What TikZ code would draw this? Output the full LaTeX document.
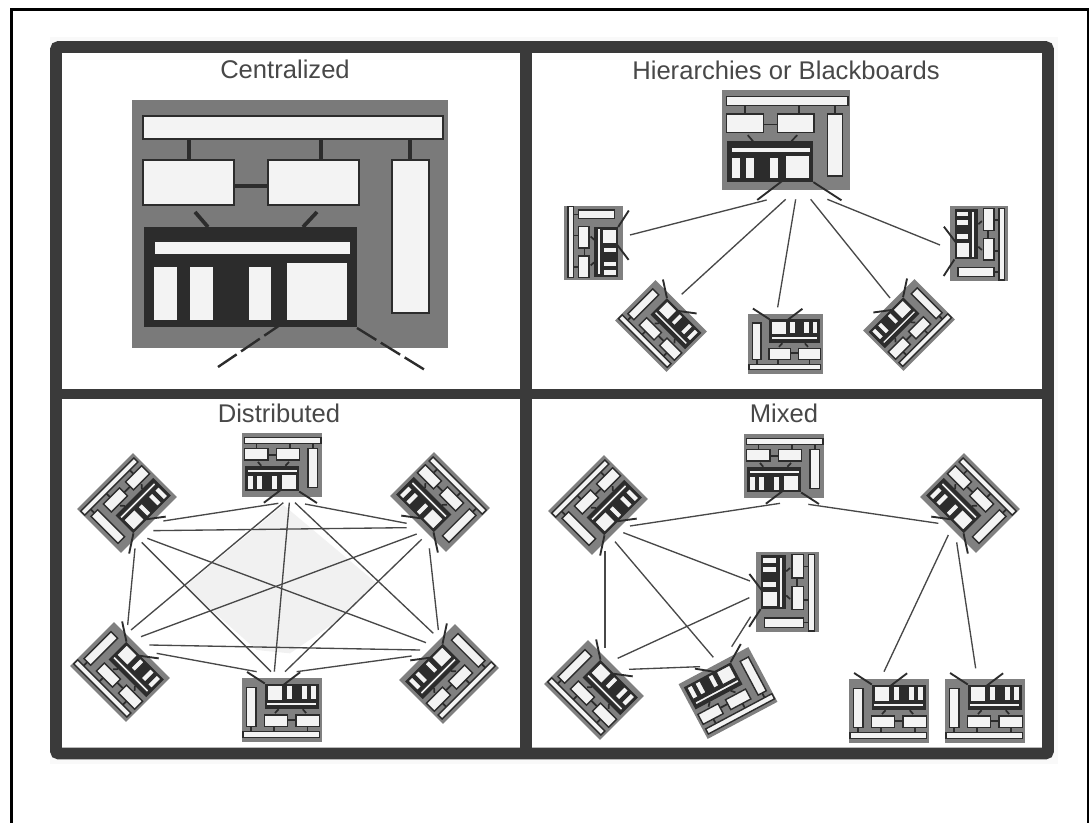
\documentclass[tikz,border=0pt]{standalone}
\usepackage{fontspec}
\setmainfont{Liberation Sans}
\definecolor{framecol}{HTML}{3A3A3A}
\definecolor{modgray}{HTML}{808080}
\definecolor{moddark}{HTML}{2C2C2C}
\definecolor{modwhite}{HTML}{F3F3F3}
\definecolor{inkcol}{HTML}{484848}
\definecolor{paper}{HTML}{F9F9F9}
\definecolor{ghost}{HTML}{F1F1F1}
\newcounter{lk}
\tikzset{
  conn/.style={draw=inkcol,line width=1pt},
  title/.style={font=\fontsize{19.2pt}{22pt}\selectfont,text=inkcol,anchor=base,inner sep=0pt},
  cbox/.style={fill=modwhite,draw=moddark,line width=1.05pt},
  cdarkbox/.style={fill=modwhite,draw=moddark,line width=0.8pt},
  cwire/.style={draw=moddark,line width=1.3pt},
  cstub/.style={draw=moddark,line width=1.4pt},
  cbody/.style={fill=modgray},
  cdark/.style={fill=moddark},
  bigmod/.style={
    cbox/.append style={line width=1.2pt},
    cdarkbox/.append style={draw=none},
    cwire/.append style={line width=2.8pt},
    cstub/.append style={line width=1.8pt,dash pattern=on 17pt off 4pt},
    cbody/.append style={fill=modgray!95!black}
  }
}
\newcommand{\lnk}[4]{\stepcounter{lk}%
  \coordinate (la\thelk) at (#1,#2);
  \coordinate (lb\thelk) at (#3,#4);
  \draw[conn] (la\thelk) -- (lb\thelk);}
% name, x, y, rotation, signed x scale, scale, extra style, stub left end, stub right end
\newcommand{\cpu}[9]{%
  \begin{scope}[shift={(#2,#3)},rotate=#4,xscale=#5,yscale=#6,#7]
    \coordinate (#1) at (0,0);
    \path[cbody] (-158,-124) rectangle (158,124);
    \path[cwire] (-100.5,-85) -- (-100.5,-64);
    \path[cwire] (31.5,-85) -- (31.5,-64);
    \path[cwire] (120.5,-85) -- (120.5,-64);
    \path[cwire] (-55.5,-38) -- (-21.5,-38);
    \path[cwire] (-94.5,-12) -- (-81.5,3);
    \path[cwire] (27.5,-12) -- (13.5,3);
    \path[cbox] (-146.5,-108) rectangle (153.5,-85);
    \path[cbox] (-146.5,-64) rectangle (-55.5,-19);
    \path[cbox] (-21.5,-64) rectangle (69.5,-19);
    \path[cbox] (102.5,-64) rectangle (139.5,89);
    \path[cdark] (-145.5,3) rectangle (67.5,103);
    \path[cdarkbox] (-134.5,18) rectangle (60.5,30);
    \path[cdarkbox] (-135.5,43) rectangle (-112.5,96);
    \path[cdarkbox] (-99.5,43) rectangle (-76.5,96);
    \path[cdarkbox] (-40.5,43) rectangle (-18.5,96);
    \path[cdarkbox] (-2.5,39) rectangle (57.5,96);
    \path[cstub] (-6.5,99) -- (#8);
    \path[cstub] (67.5,104) -- (#9);
  \end{scope}}
\newcommand{\mod}[6]{\cpu{#1}{#2}{#3}{#4}{#5}{#6}{}{-71,148}{137,149}}
\begin{document}
\begin{tikzpicture}[x=0.75pt,y=-0.75pt]
\useasboundingbox (0,0) rectangle (1089,823);
\fill[white] (0,0) rectangle (1089,823);
\fill[paper] (50,37) rectangle (1058,764);
\coordinate (pageA) at (11.5,823);
\coordinate (pageB) at (11.5,9.5);
\coordinate (pageC) at (1088,9.5);
\coordinate (pageD) at (1088,823);
\draw[black,line width=2.2pt] (pageA) -- (pageB) -- (pageC) -- (pageD);
\fill[white] (62,53) rectangle (1043,749);
% frame
\coordinate (fNW) at (56,47);
\coordinate (fNE) at (1048,47);
\coordinate (fSE) at (1048,753.5);
\coordinate (fSW) at (56,753.5);
\coordinate (fT) at (525.5,47);
\coordinate (fB) at (525.5,753.5);
\coordinate (fL) at (56,394);
\coordinate (fR) at (1048,394);
\draw[framecol,line width=8.8pt,rounded corners=2pt] (fNW) -- (fNE) -- (fSE) -- (fSW) -- cycle;
\draw[framecol,line width=9pt] (fT) -- (fB);
\draw[framecol,line width=7.8pt] (fL) -- (fR);
% titles
\node[title] (tc) at (285,79) {Centralized};
\node[title] (th) at (786,80) {Hierarchies or Blackboards};
\node[title] (td) at (279,423) {Distributed};
\node[title] (tm) at (784,423) {Mixed};
% Centralized
\cpu{big}{289.5}{224}{0}{1}{1}{bigmod}{-71.5,143}{135.5,146}
% Hierarchies
\mod{ha}{786}{140}{0}{.405}{.405}
\mod{hb}{593.5}{243}{90}{.237}{.237}
\mod{hc}{661}{326}{135}{.23}{.23}
\mod{hd}{785.5}{344}{180}{.238}{.238}
\mod{he}{909}{325}{-135}{-.23}{.23}
\mod{hf}{979}{243.5}{-90}{.237}{.237}
\begin{scope}[shift={(540,80)},x=.25pt,y=-.25pt]
  \lnk{680}{360}{270}{465}
  \lnk{737}{358}{425}{643}
  \lnk{767}{358}{713}{682}
  \lnk{812}{358}{1050}{654}
  \lnk{862}{358}{1200}{495}
\end{scope}
% Distributed
\begin{scope}[shift={(60,420)},x=.25pt,y=-.25pt]
  \coordinate (g1) at (670,255);
  \coordinate (g2) at (950,490);
  \coordinate (g3) at (850,590);
  \coordinate (g4) at (690,700);
  \coordinate (g5) at (590,690);
  \coordinate (g6) at (375,500);
  \fill[ghost] (g1) -- (g2) -- (g3) -- (g4) -- (g5) -- (g6) -- cycle;
\end{scope}
\mod{da}{282}{465}{0}{.255}{.255}
\mod{db}{127}{503}{45}{-.25}{.25}
\mod{dc}{440}{502}{-45}{.25}{.25}
\mod{dd}{120}{672}{135}{.25}{.25}
\mod{de}{449}{674}{-135}{-.25}{.25}
\mod{df}{282}{710}{180}{.255}{.255}
\begin{scope}[shift={(60,420)},x=.25pt,y=-.25pt]
  \lnk{310}{303}{655}{250}
  \lnk{280}{332}{1040}{323}
  \lnk{225}{385}{203}{615}
  \lnk{262}{355}{1098}{668}
  \lnk{245}{367}{633}{755}
  \lnk{735}{252}{1040}{310}
  \lnk{670}{248}{213}{630}
  \lnk{688}{248}{643}{755}
  \lnk{705}{248}{1120}{640}
  \lnk{1070}{342}{243}{650}
  \lnk{1085}{358}{675}{755}
  \lnk{1108}{385}{1135}{630}
  \lnk{268}{675}{1080}{690}
  \lnk{290}{700}{590}{755}
  \lnk{1055}{708}{710}{755}
\end{scope}
% Mixed
\mod{ma}{784}{466}{0}{.255}{.255}
\mod{mb}{598}{505}{45}{-.25}{.25}
\mod{mc}{970}{503}{-45}{.25}{.25}
\mod{md}{787}{592}{-90}{.254}{.254}
\mod{me}{594}{690}{135}{.25}{.25}
\mod{mf}{728}{693}{-152}{-.25}{.25}
\mod{mg}{889}{711}{180}{.255}{.255}
\mod{mh}{985}{711}{180}{.255}{.255}
\begin{scope}[shift={(530,420)},x=.25pt,y=-.25pt]
  \lnk{300}{318}{750}{250}
  \lnk{835}{253}{1225}{310}
  \lnk{280}{338}{660}{483}
  \lnk{255}{365}{550}{712}
  \lnk{225}{392}{225}{685}
  \lnk{263}{715}{658}{533}
  \lnk{297}{748}{510}{740}
  \lnk{605}{680}{662}{590}
  \lnk{1255}{345}{1062}{755}
  \lnk{1280}{367}{1337}{745}
\end{scope}
\end{tikzpicture}
\end{document}
